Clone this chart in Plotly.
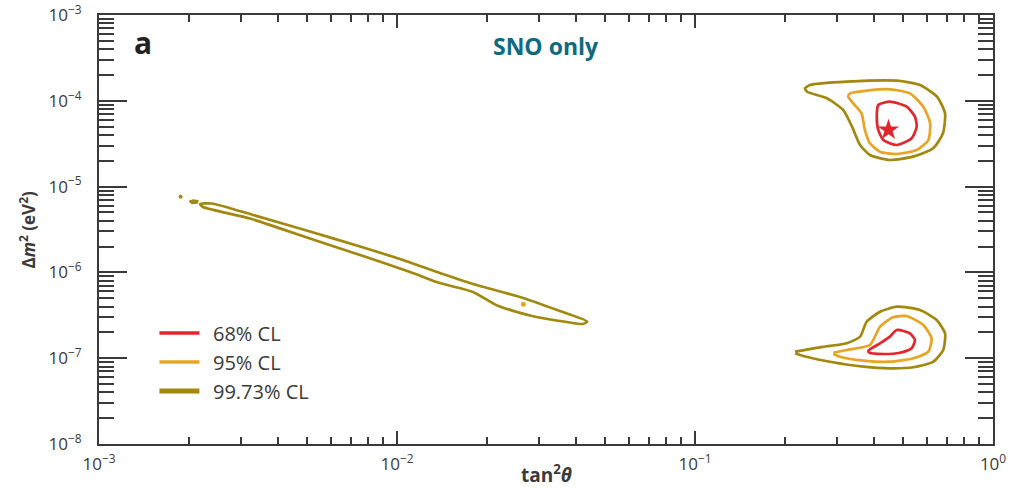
import numpy as np
import plotly.graph_objects as go

# ---- data (log10 of tan^2(theta) and log10 of dm^2 [eV^2]) ----
# upper (LMA) island
hi_997_lx = [-0.614, -0.490, -0.322, -0.245, -0.188, -0.161, -0.168, -0.201, -0.268, -0.346,
             -0.413, -0.446, -0.473, -0.503, -0.557, -0.624, -0.631, -0.614]
hi_997_ly = [-3.816, -3.777, -3.766, -3.816, -3.952, -4.146, -4.379, -4.554, -4.651, -4.690,
             -4.632, -4.515, -4.302, -4.107, -3.971, -3.894, -3.854, -3.816]
hi_95_lx = [-0.480, -0.424, -0.346, -0.279, -0.234, -0.211, -0.217, -0.256, -0.323, -0.379,
            -0.413, -0.430, -0.441, -0.469, -0.486, -0.480]
hi_95_ly = [-3.913, -3.882, -3.866, -3.913, -4.069, -4.262, -4.457, -4.573, -4.620, -4.593,
            -4.495, -4.340, -4.146, -4.029, -3.952, -3.913]
hi_68_lx = [-0.385, -0.346, -0.290, -0.262, -0.256, -0.273, -0.323, -0.368, -0.385, -0.390, -0.385]
hi_68_ly = [-4.049, -4.010, -4.069, -4.185, -4.302, -4.437, -4.515, -4.457, -4.340, -4.185, -4.049]

# lower (LOW) island
lo_997_lx = [-0.664, -0.581, -0.491, -0.446, -0.424, -0.379, -0.323, -0.245, -0.189, -0.161,
             -0.167, -0.200, -0.267, -0.346, -0.435, -0.547, -0.637, -0.664]
lo_997_ly = [-6.924, -6.873, -6.826, -6.749, -6.575, -6.458, -6.400, -6.438, -6.555, -6.710,
             -6.904, -7.041, -7.106, -7.118, -7.099, -7.041, -6.974, -6.943]
lo_95_lx = [-0.536, -0.491, -0.413, -0.379, -0.335, -0.290, -0.234, -0.206, -0.217, -0.267,
            -0.346, -0.435, -0.513, -0.536]
lo_95_ly = [-6.936, -6.904, -6.846, -6.633, -6.523, -6.508, -6.613, -6.768, -6.924, -7.001,
            -7.041, -7.029, -6.983, -6.951]
lo_68_lx = [-0.418, -0.379, -0.346, -0.323, -0.279, -0.262, -0.273, -0.312, -0.368, -0.415, -0.418]
lo_68_ly = [-6.913, -6.826, -6.749, -6.671, -6.710, -6.788, -6.885, -6.936, -6.951, -6.936, -6.913]

# small-mixing-angle band (99.73%)
band_lx = [-2.661, -2.621, -2.483, -2.292, -2.124, -1.990, -1.856, -1.745, -1.577, -1.463, -1.362,
           -1.376, -1.430, -1.554, -1.664, -1.745, -1.856, -1.956, -2.124, -2.292, -2.493, -2.651, -2.661]
band_ly = [-5.203, -5.197, -5.331, -5.523, -5.698, -5.844, -6.007, -6.135, -6.298, -6.438, -6.572,
           -6.601, -6.578, -6.502, -6.386, -6.228, -6.124, -5.995, -5.797, -5.605, -5.372, -5.238, -5.203]
blob_lx = [-2.697, -2.684, -2.668, -2.671, -2.688, -2.697]
blob_ly = [-5.170, -5.155, -5.165, -5.192, -5.198, -5.170]
speck_997_lx, speck_997_ly = [-2.726], [-5.118]
speck_95_lx, speck_95_ly = [-1.576], [-6.372]

best_fit_tan2 = [0.446]
best_fit_dm2 = [4.57e-5]

cl_labels = ["68% CL", "95% CL", "99.73% CL"]
x_tick_exp = [-3, -2, -1, 0]
y_tick_exp = [-8, -7, -6, -5, -4, -3]

RED, ORANGE, OLIVE = "#e4262c", "#e9a424", "#a2880f"
AX = "#3a3a3a"
FONT = "Open Sans"


def p10(a):
    return np.power(10.0, np.asarray(a, dtype=float))


fig = go.Figure()

def contour(lx, ly, color, width=2.7):
    fig.add_trace(go.Scatter(x=p10(lx), y=p10(ly), mode="lines",
                             line=dict(color=color, width=width, shape="spline", smoothing=0.6),
                             showlegend=False, hoverinfo="skip"))

contour(hi_997_lx, hi_997_ly, OLIVE)
contour(hi_95_lx, hi_95_ly, ORANGE)
contour(hi_68_lx, hi_68_ly, RED)
contour(lo_997_lx, lo_997_ly, OLIVE)
contour(lo_95_lx, lo_95_ly, ORANGE)
contour(lo_68_lx, lo_68_ly, RED)
contour(band_lx, band_ly, OLIVE)
fig.add_trace(go.Scatter(x=p10(blob_lx), y=p10(blob_ly), mode="lines", fill="toself",
                         fillcolor=OLIVE, line=dict(color=OLIVE, width=1.5),
                         showlegend=False, hoverinfo="skip"))
fig.add_trace(go.Scatter(x=p10(speck_997_lx), y=p10(speck_997_ly), mode="markers",
                         marker=dict(color=OLIVE, size=4), showlegend=False))
fig.add_trace(go.Scatter(x=p10(speck_95_lx), y=p10(speck_95_ly), mode="markers",
                         marker=dict(color=ORANGE, size=5), showlegend=False))
fig.add_trace(go.Scatter(x=best_fit_tan2, y=best_fit_dm2, mode="markers",
                         marker=dict(symbol="star", color=RED, size=16, line=dict(width=0)),
                         showlegend=False))

# legend entries
for lab, col, w in zip(cl_labels, [RED, ORANGE, OLIVE], [3.5, 3.5, 5]):
    fig.add_trace(go.Scatter(x=[None], y=[None], mode="lines", name="\u00a0\u2009" + lab,
                             line=dict(color=col, width=w)))

minor_x = [k * 10.0 ** e for e in range(-3, 0) for k in range(2, 10)]
minor_y = [k * 10.0 ** e for e in range(-8, -3) for k in range(2, 10)]

fig.update_xaxes(
    type="log", range=[-3, 0], automargin=False,
    tickmode="array", tickvals=[10.0 ** e for e in x_tick_exp],
    ticktext=["10<sup>\u2212%d</sup>" % -e if e < 0 else "10<sup>%d</sup>" % e for e in x_tick_exp],
    ticks="inside", ticklen=13, tickwidth=1.5, tickcolor=AX,
    minor=dict(tickmode="array", tickvals=minor_x, ticks="inside", ticklen=7,
               tickwidth=1.5, tickcolor=AX, showgrid=False),
    showline=True, linecolor=AX, linewidth=2, mirror="ticks",
    showgrid=False, zeroline=False,
    tickfont=dict(family=FONT, size=17, color=AX), ticklabelstandoff=4,
)
fig.update_yaxes(
    type="log", range=[-8, -3], automargin=False,
    tickmode="array", tickvals=[10.0 ** e for e in y_tick_exp],
    ticktext=["10<sup>\u2212%d</sup>" % -e for e in y_tick_exp],
    ticks="inside", ticklen=28, tickwidth=1.5, tickcolor=AX,
    minor=dict(tickmode="array", tickvals=minor_y, ticks="inside", ticklen=15,
               tickwidth=1.5, tickcolor=AX, showgrid=False),
    showline=True, linecolor=AX, linewidth=2, mirror="ticks",
    showgrid=False, zeroline=False,
    tickfont=dict(family=FONT, size=17, color=AX), ticklabelstandoff=12,
)

# axis titles
fig.add_annotation(text="<b>tan<sup>2</sup><i>\u03b8</i></b>", xref="paper", yref="paper",
                   x=0.5, y=-0.069, xanchor="center", yanchor="middle", showarrow=False,
                   font=dict(family=FONT, size=19, color=AX))
fig.add_annotation(text="<b>\u0394<i>m</i><sup>2</sup> (eV<sup>2</sup>)</b>", xref="paper", yref="paper",
                   x=-0.0805, y=0.5, xanchor="center", yanchor="middle", textangle=-90,
                   showarrow=False, font=dict(family=FONT, size=17, color=AX))

fig.add_annotation(text="<b>a</b>", xref="paper", yref="paper", x=0.049, y=0.935,
                   xanchor="center", yanchor="middle",
                   showarrow=False, font=dict(family=FONT, size=30, color="#222222"))
fig.add_annotation(text="<b>SNO only</b>", xref="paper", yref="paper", x=0.5, y=0.928,
                   xanchor="center", yanchor="middle",
                   showarrow=False, font=dict(family=FONT, size=23, color="#0e6a80"))

fig.update_layout(
    width=1016, height=488,
    margin=dict(l=99, r=23, t=15, b=44),
    paper_bgcolor="white", plot_bgcolor="white",
    font=dict(family=FONT, color=AX),
    legend=dict(x=0.062, y=0.304, xanchor="left", yanchor="top",
                bgcolor="rgba(0,0,0,0)", font=dict(family=FONT, size=20, color=AX),
                tracegroupgap=0, itemwidth=40),
)

fig.write_html("out.html")
